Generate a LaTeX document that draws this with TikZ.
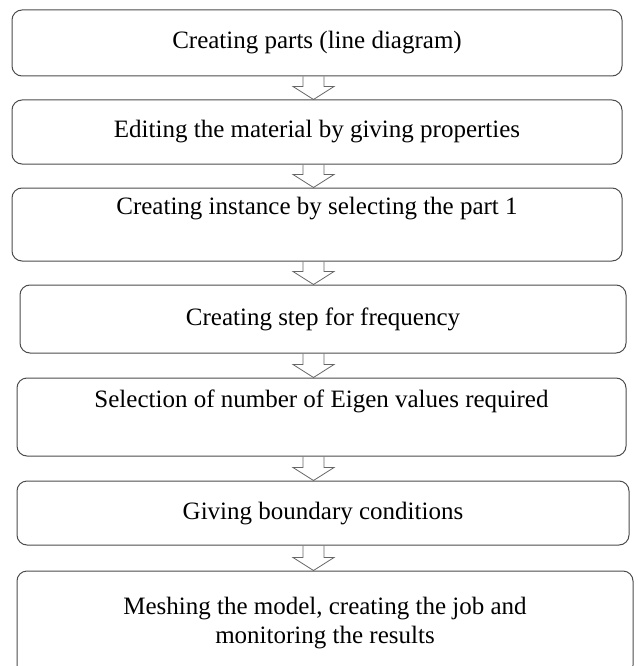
\documentclass[tikz,border=0pt]{standalone}
\usepackage{fontspec}
\setmainfont{Liberation Serif}
\usepackage{tikz}
\usetikzlibrary{calc}
\tikzstyle{stage}=[rectangle, rounded corners=10pt, draw=black!70, line width=1pt, inner sep=0pt, font=\fontsize{25}{29}\selectfont, text height=18pt, text depth=6pt]
\tikzstyle{stagetop}=[stage, text depth=38pt]
\tikzstyle{hollow}=[draw=black!60, line width=0.8pt, to path={let \p1=(\tikztostart.south), \p2=(\tikztotarget.north) in
  (303pt,\y1) -- (303pt,\y2+13pt) -- (293pt,\y2+13pt) -- (313.5pt,\y2) -- (334pt,\y2+13pt) -- (324pt,\y2+13pt) -- (324pt,\y1)}]

\begin{document}
\begin{tikzpicture}[x=1pt, y=-1pt]
		   \useasboundingbox (0,0) rectangle (637,666);
		   \begin{scope}
			   \node (1) at (317, 43) [stage, minimum width=610pt, minimum height=66pt] {Creating parts (line diagram)};
			   \node (2) at (317, 132) [stage, minimum width=610pt, minimum height=64pt] {Editing the material by giving properties};
			   \node (3) at (317, 224.5) [stagetop, minimum width=610pt, minimum height=73pt] {Creating instance by selecting the part 1};
			   \node (4) at (323, 319) [stage, minimum width=606pt, minimum height=68pt] {Creating step for frequency};
			   \node (5) at (321.5, 417) [stagetop, minimum width=609pt, minimum height=78pt] {Selection of number of Eigen values required};
			   \node (6) at (323, 513) [stage, minimum width=612pt, minimum height=64pt] {Giving boundary conditions};
			   \node (7) at (325, 623) [stage, minimum width=616pt, minimum height=104pt, align=center, text height=, text depth=] {Meshing the model, creating the job and\\ monitoring the results};
		   \end{scope}
		   \begin{scope}
			   \path [hollow] (1) edge (2);
			   \path [hollow] (2) edge (3);
			   \path [hollow] (3) edge (4);
			   \path [hollow] (4) edge (5);
			   \path [hollow] (5) edge (6);
			   \path [hollow] (6) edge (7);
		   \end{scope}
	   \end{tikzpicture}
\end{document}
